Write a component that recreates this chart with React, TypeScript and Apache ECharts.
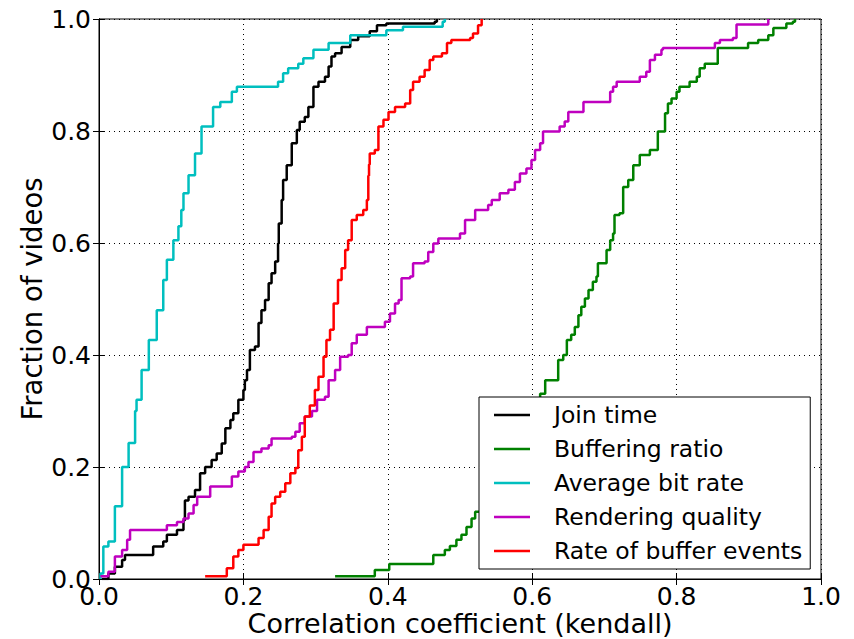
import React, { useEffect, useRef } from "react";
import * as echarts from "echarts";

const seriesNames = [
  "Join time",
  "Buffering ratio",
  "Average bit rate",
  "Rendering quality",
  "Rate of buffer events",
];
const seriesColors = ["#000000", "#008000", "#00bfbf", "#bf00bf", "#ff0000"];

const joinTime: number[][] = [
  [0.004, 0.0], [0.013, 0.01], [0.022, 0.022], [0.032, 0.034], [0.036, 0.043],
  [0.075, 0.058], [0.089, 0.067], [0.094, 0.079], [0.108, 0.0875], [0.117, 0.105],
  [0.119, 0.14], [0.124, 0.147], [0.133, 0.159], [0.14, 0.189], [0.147, 0.2],
  [0.156, 0.2125], [0.163, 0.224], [0.17, 0.242], [0.175, 0.269], [0.182, 0.284],
  [0.186, 0.296], [0.193, 0.32], [0.2, 0.3375], [0.202, 0.355], [0.205, 0.373],
  [0.209, 0.409], [0.216, 0.415], [0.221, 0.457], [0.225, 0.48], [0.23, 0.498],
  [0.235, 0.528], [0.239, 0.546], [0.244, 0.567], [0.248, 0.599], [0.249, 0.635],
  [0.253, 0.677], [0.255, 0.7125], [0.26, 0.739], [0.267, 0.778], [0.274, 0.802],
  [0.278, 0.8166], [0.285, 0.825], [0.29, 0.843], [0.297, 0.879], [0.304, 0.888],
  [0.313, 0.897], [0.318, 0.915], [0.322, 0.933], [0.327, 0.939], [0.336, 0.95],
  [0.348, 0.9625], [0.359, 0.969], [0.375, 0.978], [0.385, 0.989], [0.398, 0.992],
  [0.465, 0.995], [0.468, 1.0],
];

const bufferingRatio: number[][] = [
  [0.327, 0.005], [0.382, 0.016], [0.402, 0.027], [0.463, 0.043], [0.479, 0.052],
  [0.486, 0.059], [0.495, 0.07], [0.502, 0.079], [0.509, 0.093], [0.516, 0.108],
  [0.521, 0.12], [0.53, 0.14], [0.545, 0.17], [0.56, 0.2], [0.575, 0.24],
  [0.59, 0.28], [0.6, 0.3], [0.611, 0.331], [0.618, 0.355], [0.636, 0.391],
  [0.643, 0.4], [0.648, 0.427], [0.654, 0.436], [0.659, 0.45], [0.664, 0.471],
  [0.668, 0.486], [0.673, 0.501], [0.678, 0.516], [0.684, 0.531], [0.689, 0.54],
  [0.691, 0.564], [0.703, 0.5875], [0.708, 0.605], [0.712, 0.617], [0.714, 0.65],
  [0.721, 0.653], [0.726, 0.7], [0.733, 0.7125], [0.74, 0.739], [0.749, 0.757],
  [0.763, 0.766], [0.774, 0.799], [0.784, 0.8316], [0.788, 0.849], [0.793, 0.858],
  [0.8, 0.87], [0.804, 0.879], [0.818, 0.888], [0.828, 0.897], [0.832, 0.912],
  [0.839, 0.92], [0.857, 0.948], [0.899, 0.957], [0.913, 0.9625], [0.927, 0.971],
  [0.934, 0.984], [0.952, 0.992], [0.961, 0.995], [0.964, 1.0],
];

const avgBitRate: number[][] = [
  [0.002, 0.0], [0.002, 0.01], [0.006, 0.058], [0.013, 0.067], [0.022, 0.13],
  [0.032, 0.2], [0.041, 0.243], [0.05, 0.3], [0.052, 0.32], [0.059, 0.373],
  [0.069, 0.427], [0.08, 0.48], [0.089, 0.534], [0.094, 0.57], [0.103, 0.605],
  [0.11, 0.63], [0.114, 0.659], [0.117, 0.689], [0.124, 0.721], [0.133, 0.76],
  [0.142, 0.808], [0.158, 0.843], [0.168, 0.852], [0.184, 0.87], [0.191, 0.879],
  [0.248, 0.888], [0.255, 0.903], [0.262, 0.912], [0.276, 0.92], [0.283, 0.93],
  [0.297, 0.945], [0.318, 0.957], [0.348, 0.971], [0.398, 0.98], [0.421, 0.986],
  [0.476, 0.995], [0.479, 1.0],
];

const renderingQuality: number[][] = [
  [0.002, 0.005], [0.013, 0.013], [0.022, 0.04], [0.032, 0.052], [0.039, 0.07],
  [0.043, 0.0875], [0.094, 0.096], [0.108, 0.102], [0.117, 0.108], [0.124, 0.117],
  [0.131, 0.132], [0.136, 0.147], [0.154, 0.165], [0.184, 0.183], [0.193, 0.192],
  [0.202, 0.2], [0.207, 0.209], [0.214, 0.227], [0.225, 0.233], [0.235, 0.239],
  [0.239, 0.251], [0.267, 0.254], [0.272, 0.263], [0.278, 0.278], [0.285, 0.29],
  [0.295, 0.3], [0.302, 0.32], [0.313, 0.3255], [0.318, 0.355], [0.327, 0.373],
  [0.334, 0.397], [0.345, 0.4], [0.35, 0.421], [0.357, 0.436], [0.371, 0.45],
  [0.396, 0.4595], [0.403, 0.474], [0.41, 0.492], [0.415, 0.498], [0.419, 0.537],
  [0.431, 0.54], [0.435, 0.564], [0.451, 0.567], [0.456, 0.584], [0.463, 0.599],
  [0.47, 0.608], [0.5, 0.617], [0.507, 0.641], [0.521, 0.659], [0.539, 0.668],
  [0.544, 0.677], [0.555, 0.689], [0.567, 0.695], [0.576, 0.709], [0.583, 0.724],
  [0.592, 0.733], [0.599, 0.748], [0.604, 0.766], [0.611, 0.778], [0.615, 0.799],
  [0.638, 0.808], [0.645, 0.817], [0.65, 0.834], [0.671, 0.852], [0.708, 0.87],
  [0.712, 0.879], [0.717, 0.888], [0.749, 0.897], [0.758, 0.906], [0.763, 0.927],
  [0.77, 0.936], [0.779, 0.945], [0.781, 0.948], [0.853, 0.957], [0.86, 0.9625],
  [0.878, 0.966], [0.883, 0.99], [0.927, 1.0],
];

const bufferEvents: number[][] = [
  [0.147, 0.005], [0.177, 0.019], [0.186, 0.04], [0.193, 0.052], [0.2, 0.061],
  [0.221, 0.073], [0.228, 0.0875], [0.235, 0.111], [0.239, 0.135], [0.244, 0.147],
  [0.251, 0.156], [0.258, 0.171], [0.265, 0.189], [0.272, 0.198], [0.276, 0.23],
  [0.281, 0.254], [0.285, 0.29], [0.292, 0.31], [0.299, 0.3375], [0.304, 0.361],
  [0.311, 0.397], [0.315, 0.427], [0.32, 0.445], [0.325, 0.492], [0.331, 0.534],
  [0.336, 0.555], [0.341, 0.5875], [0.345, 0.605], [0.35, 0.641], [0.357, 0.65],
  [0.366, 0.659], [0.371, 0.677], [0.373, 0.72], [0.374, 0.74], [0.375, 0.76],
  [0.382, 0.766], [0.387, 0.808], [0.394, 0.82], [0.401, 0.834], [0.41, 0.843],
  [0.424, 0.849], [0.431, 0.873], [0.435, 0.888], [0.444, 0.897], [0.451, 0.909],
  [0.458, 0.927], [0.463, 0.933], [0.475, 0.939], [0.482, 0.957], [0.488, 0.9625],
  [0.514, 0.966], [0.518, 0.974], [0.525, 0.989], [0.53, 1.0],
];

const allData = [joinTime, bufferingRatio, avgBitRate, renderingQuality, bufferEvents];

const FONT = "DejaVu Sans";
const LEGEND_ICON = "path://M0,0 L36,0 L36,2.6 L0,2.6 Z";

export default function App() {
  const ref = useRef<HTMLDivElement>(null);
  useEffect(() => {
    if (!ref.current) return;
    const chart = echarts.init(ref.current, undefined, { renderer: "svg" });
    const fmt = (v: number) => v.toFixed(1);
    const frameAxisCommon = {
      min: 0,
      max: 1,
      interval: 0.2,
      axisLine: { show: true, lineStyle: { color: "#000", width: 1 } },
      axisTick: { show: true, inside: true, length: 6, lineStyle: { color: "#000", width: 1 } },
    };
    chart.setOption({
      animation: false,
      backgroundColor: "#fff",
      textStyle: { fontFamily: FONT },
      grid: {
        left: 99,
        right: 33,
        top: 19,
        bottom: 60,
        containLabel: false,
        outerBoundsMode: "none",
        show: true,
        borderColor: "#000",
        borderWidth: 1,
        backgroundColor: "transparent",
      },
      xAxis: [
        {
          type: "value",
          position: "bottom",
          ...frameAxisCommon,
          name: "Correlation coefficient (kendall)",
          nameLocation: "middle",
          nameMoveOverlap: false,
          nameGap: 31,
          nameTextStyle: { fontSize: 27, color: "#000", fontFamily: FONT },
          axisLabel: {
            show: true,
            color: "#000",
            fontSize: 25,
            fontFamily: FONT,
            margin: 5,
            formatter: fmt,
            showMinLabel: true,
            showMaxLabel: true,
          },
          splitLine: { show: true, lineStyle: { color: "#000", width: 1, type: [1, 4] } },
        },
        {
          type: "value",
          position: "top",
          ...frameAxisCommon,
          axisLabel: { show: false },
          splitLine: { show: false },
        },
      ],
      yAxis: [
        {
          type: "value",
          position: "left",
          ...frameAxisCommon,
          name: "Fraction of videos",
          nameLocation: "middle",
          nameMoveOverlap: false,
          nameGap: 53,
          nameTextStyle: { fontSize: 27.5, color: "#000", fontFamily: FONT },
          axisLabel: {
            show: true,
            color: "#000",
            fontSize: 25,
            fontFamily: FONT,
            margin: 8,
            formatter: fmt,
            showMinLabel: true,
            showMaxLabel: true,
          },
          splitLine: { show: true, lineStyle: { color: "#000", width: 1, type: [1, 4] } },
        },
        {
          type: "value",
          position: "right",
          ...frameAxisCommon,
          axisLabel: { show: false },
          splitLine: { show: false },
        },
      ],
      legend: {
        show: true,
        orient: "vertical",
        left: 479,
        top: 397,
        padding: [6, 8, 6, 15],
        itemWidth: 36,
        itemHeight: 24,
        itemGap: 10,
        icon: LEGEND_ICON,
        backgroundColor: "#fff",
        borderColor: "#000",
        borderWidth: 1,
        borderRadius: 0,
        textStyle: {
          fontSize: 23.5,
          fontFamily: FONT,
          color: "#000",
          lineHeight: 24,
          padding: [0, 0, 0, 19],
        },
        data: seriesNames,
      },
      series: allData.map((d, i) => ({
        name: seriesNames[i],
        type: "line",
        step: "end",
        xAxisIndex: 0,
        yAxisIndex: 0,
        data: d,
        symbol: "none",
        showSymbol: false,
        clip: true,
        color: seriesColors[i],
        itemStyle: { color: seriesColors[i] },
        lineStyle: { color: seriesColors[i], width: 2.5 },
      })),
    });
    return () => chart.dispose();
  }, []);
  return (
    <div
      ref={ref}
      style={{ position: "fixed", left: 0, top: 0, width: 854, height: 639 }}
    />
  );
}
